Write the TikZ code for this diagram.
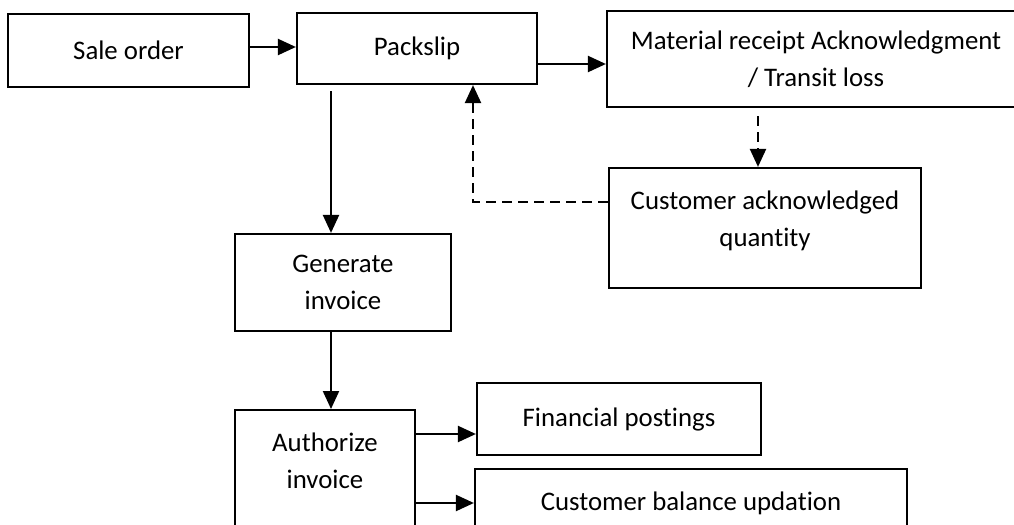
\documentclass[tikz,border=0pt]{standalone}
\usepackage{fontspec}
\setmainfont{Carlito}[Ligatures=NoCommon]
\usetikzlibrary{positioning,calc,arrows.meta}
\tikzset{font=\fontsize{13.4}{18.5}\selectfont}

\begin{document}
\begin{tikzpicture}[x=0.5pt, y=-0.5pt]
	\useasboundingbox (0,0) rectangle (1014,525);
	\clip (0,0) rectangle (1014,525);
	\tikzstyle{every node}=[align=center, draw, line width=1.1pt, inner sep=0pt]
	\tikzstyle{arr}=[line width=1.1pt, -{Triangle[length=9pt,width=8pt]}]
	\tikzstyle{darr}=[arr, dash pattern=on 5pt off 3pt]

	\node[minimum width=120.5pt, minimum height=36.5pt] (sale) at (128.5, 50.5) {Sale order};
	\node[minimum width=120pt, minimum height=35.5pt] (pack) at (417, 48.5) {Packslip};
	\node[minimum width=209pt, minimum height=48pt] (mat) at (816, 59) {Material receipt Acknowledgment\\/ Transit loss};
	\node[minimum width=156pt, minimum height=60pt, text depth=9pt] (ack) at (765, 228) {Customer acknowledged\\quantity};

	\node[minimum width=108pt, minimum height=48.5pt] (gen) at (343, 282.5) {Generate\\invoice};
	\node[minimum width=90pt, anchor=north, inner ysep=11.5pt, text depth=50pt] (auth) at (325, 409) {Authorize\\invoice};

	\node[minimum width=142pt, minimum height=36pt] (fin) at (619, 419) {Financial postings};
	\node[minimum width=216pt, minimum height=34pt] (bal) at (691, 503) {Customer balance updation};

	\draw [arr] ([yshift=1.75pt]sale.east) to ([yshift=1.75pt]sale.east -| pack.west);
	\draw [arr] ([yshift=-7.75pt]pack.east) to ([yshift=-7.75pt]pack.east -| mat.west);
	\draw [darr] ([xshift=-29pt, yshift=-4pt]mat.south) to ([xshift=-29pt]mat.south |- ack.north);
	\draw [darr] ([yshift=13pt]ack.west) -| ([xshift=28pt]pack.south);

	\draw [arr] ([xshift=-43pt, yshift=-3pt]pack.south) to ([xshift=-43pt]pack.south |- gen.north);
	\draw [arr] ([xshift=-6pt]gen.south) to ([xshift=-6pt]gen.south |- auth.north);
	\draw [arr] ([yshift=-7.5pt]fin.west -| auth.east) to ([yshift=-7.5pt]fin.west);
	\draw [arr] (bal.west -| auth.east) to (bal.west);
\end{tikzpicture}
\end{document}
